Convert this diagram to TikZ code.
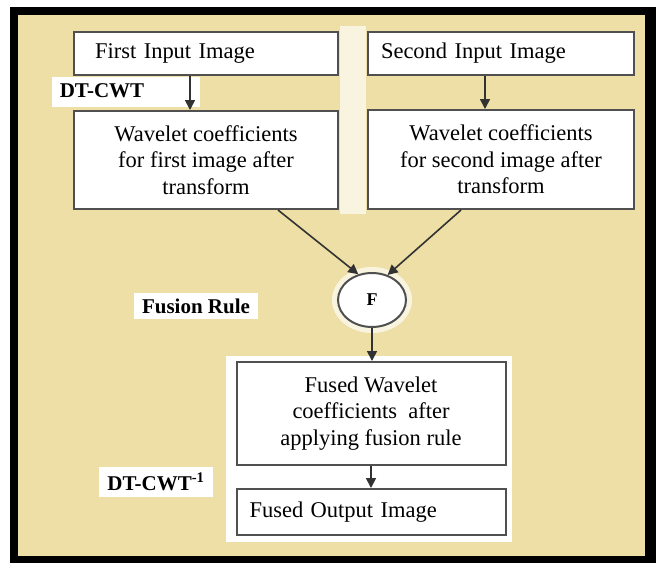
\documentclass[tikz,border=0pt]{standalone}
\usepackage{fontspec}
\setmainfont{Liberation Serif}
\usetikzlibrary{arrows.meta,shapes.geometric}
\definecolor{beige}{RGB}{237,223,166}
\definecolor{boxline}{RGB}{80,80,80}
\definecolor{arrline}{RGB}{50,50,50}
\tikzset{
  box/.style={draw=boxline,line width=2pt,fill=white,align=center,inner sep=0pt,
    font=\rmfamily\fontsize{22.5}{26.5}\selectfont},
  lbl/.style={fill=white,inner xsep=8pt,inner ysep=6pt,font=\rmfamily\fontsize{21}{24}\selectfont\bfseries},
  arr/.style={draw=arrline,line width=1.6pt,-{Triangle[length=10pt,width=10pt]}},
  halo/.style={fill=white,draw=none},
  softhalo/.style={fill=white!65!beige,draw=none}
}
\begin{document}
\begin{tikzpicture}[x=1pt,y=-1pt]
\useasboundingbox (0,0) rectangle (662,563);
\fill[white] (0,0) rectangle (662,563);
% frame
\fill[black] (10,7) rectangle (656,563);
\fill[beige] (18,15) rectangle (645,556);
% white halos
\fill[halo] (52,77) rectangle (200,107);
\fill[softhalo] (340,26) rectangle (366,214);
\fill[halo] (226,356) rectangle (512,542);
\fill[softhalo] (372,300) ellipse [x radius=40, y radius=33];
% nodes
\node[box,minimum height=43,align=left,text width=222,inner xsep=21] (in1) at (206,53.5) {First Input Image};
\node[box,minimum height=43,align=left,text width=240,inner xsep=13] (in2) at (501,53.5) {Second Input Image};
\node[box,minimum width=264,minimum height=98] (wc1) at (206,160) {Wavelet coefficients\\for first image after\\transform};
\node[box,minimum width=266,minimum height=99] (wc2) at (501,159.5) {Wavelet coefficients\\for second image after\\transform};
\node[ellipse,draw=boxline,line width=2pt,fill=white,minimum width=68,minimum height=54,inner sep=0pt,
  font=\rmfamily\fontsize{18}{20}\selectfont\bfseries] (F) at (372,300) {F};
\node[box,minimum width=269,minimum height=103] (fw) at (371,413.5) {Fused Wavelet\\coefficients\ \ after\\applying fusion rule};
\node[box,minimum height=46,align=left,text width=243,inner xsep=13] (fo) at (371,512) {Fused Output Image};
% labels
\node[lbl] (l1) at (102,91) {DT-CWT};
\node[lbl] (l2) at (196,306) {Fusion Rule};
\node[lbl] (l3) at (156,482) {DT-CWT\textsuperscript{-1}};
% connectors
\draw[arr] ([xshift=-16pt]in1.south) -- ([xshift=-16pt]wc1.north);
\draw[arr] ([xshift=-16pt]in2.south) -- ([xshift=-16pt]wc2.north);
\draw[arr] ([xshift=72pt]wc1.south) -- (F.118);
\draw[arr] ([xshift=-40pt]wc2.south) -- (F.58);
\draw[arr] (F.south) -- (F.south |- fw.north);
\draw[arr] (fw.south) -- (fo.north);
\end{tikzpicture}
\end{document}
